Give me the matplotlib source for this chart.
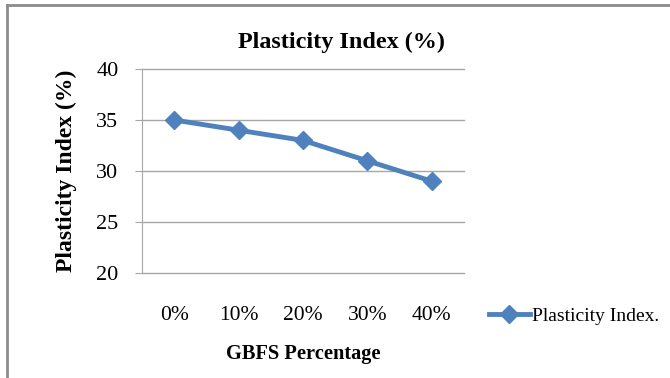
import numpy as np
import matplotlib.pyplot as plt
import matplotlib
from matplotlib.lines import Line2D

matplotlib.rc('font', family=['Liberation Serif', 'DejaVu Serif'])

categories = ['0%', '10%', '20%', '30%', '40%']
plasticity = [35, 34, 33, 31, 29]
yticks = [20, 25, 30, 35, 40]

W, H = 670, 378
fig = plt.figure(figsize=(W / 100, H / 100), dpi=100)
ax = fig.add_axes([142 / W, 1 - 273 / H, (464 - 142) / W, (273 - 69) / H])

x = np.arange(len(categories))
ax.plot(x, plasticity, color='#4F81BD', lw=3.5, marker='D', ms=9,
        label='Plasticity Index.', clip_on=False, zorder=3)

ax.set_xlim(-0.5, len(categories) - 0.5)
ax.set_ylim(20, 40)
ax.set_yticks(yticks)
ax.set_xticks(x)
ax.set_xticklabels(categories)
ax.grid(axis='y', color='#A6A6A6', lw=1)
for gl in ax.get_ygridlines():
    gl.set_clip_on(False)
ax.set_axisbelow(True)
for s in ['top', 'right', 'bottom']:
    ax.spines[s].set_visible(False)
ax.spines['left'].set_color('#A6A6A6')
ax.tick_params(axis='y', length=5, color='#A6A6A6', labelsize=16, pad=12)
ax.tick_params(axis='x', length=0, labelsize=15.5, pad=24)

ax.set_ylabel('Plasticity Index (%)', fontsize=17, fontweight='bold', labelpad=14)
fig.text(303 / W, 1 - 354 / H, 'GBFS Percentage', fontsize=14.7, fontweight='bold',
         ha='center', va='center')
fig.text(341 / W, 1 - 42 / H, 'Plasticity Index (%)', fontsize=17.4, fontweight='bold',
         ha='center', va='center')

ax.legend(loc='center left', bbox_to_anchor=(489 / W, 1 - 316 / H),
          bbox_transform=fig.transFigure, frameon=False, fontsize=14,
          handlelength=2.1, handletextpad=0.1, borderpad=0, borderaxespad=0)

# outer chart border (visible on left and top)
fig.add_artist(Line2D([7 / W, 7 / W], [0, 1 - 5 / H], color='#8C8C8C', lw=2,
                      transform=fig.transFigure))
fig.add_artist(Line2D([7 / W, 1], [1 - 5 / H, 1 - 5 / H], color='#8C8C8C', lw=2,
                      transform=fig.transFigure))

plt.savefig('out.png', dpi=100)
